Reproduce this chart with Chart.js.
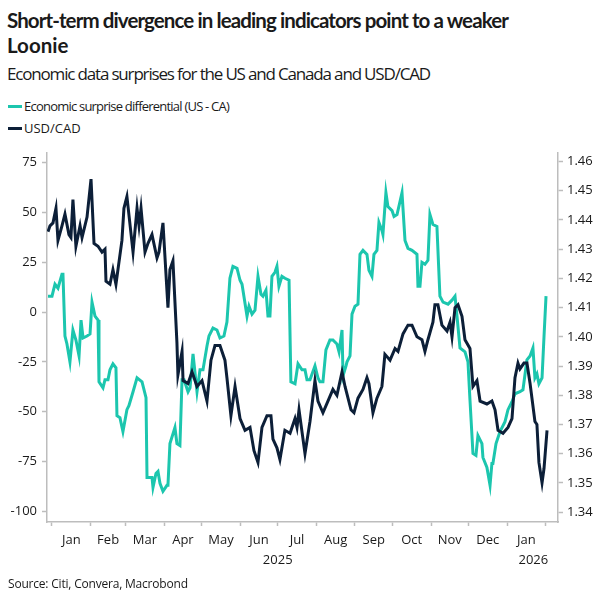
<!DOCTYPE html>
<html>
<head>
<meta charset="utf-8">
<script src="https://cdn.jsdelivr.net/npm/chart.js@4.4.1/dist/chart.umd.min.js"></script>
<style>
  body { margin: 0; background: #fff; font-family: "Open Sans", sans-serif; color: #1a1a1a; }
  #wrap { position: relative; width: 605px; height: 605px; overflow: hidden; }
  #title { position: absolute; left: 7px; top: 8px; font-family: Lato, "Open Sans", sans-serif; font-size: 20.5px; font-weight: 700; line-height: 25px; white-space: nowrap; }
  #subtitle { position: absolute; left: 7px; top: 63px; font-size: 17px; line-height: 22px; white-space: nowrap; }
  .leg { position: absolute; left: 8px; font-size: 13px; line-height: 16px; white-space: nowrap; }
  .leg i { display: inline-block; width: 14px; height: 3px; margin-right: 2px; vertical-align: middle; position: relative; top: -1px; }
  #source { position: absolute; left: 8px; top: 575px; font-size: 12px; letter-spacing: -0.2px; }
  #box { position: absolute; left: 0; top: 140px; width: 605px; height: 465px; }
</style>
</head>
<body>
<div id="wrap">
  <div id="title"><span id="t1">Short-term divergence in leading indicators point to a weaker</span><br><span id="t2">Loonie</span></div>
  <div id="subtitle"><span id="sub">Economic data surprises for the US and Canada and USD/CAD</span></div>
  <div class="leg" style="top:98px"><i style="background:#1cc6ae"></i><span id="l1">Economic surprise differential (US - CA)</span></div>
  <div class="leg" style="top:120px"><i style="background:#0c1f38"></i><span id="l2">USD/CAD</span></div>
  <div id="box"><canvas id="mycanvas"></canvas></div>
  <div id="source">Source: Citi, Convera, Macrobond</div>
</div>
<script>
// days counted from 1 Jan 2025
var usdcadDays = [-3.2, -1.6, 0.8, 3.2, 4.8, 8.0, 10.4, 13.6, 15.2, 16.8, 19.2, 22.5, 24.1, 28.1, 31.3, 33.7, 36.9, 40.1, 42.5, 43.3,
  46.5, 48.9, 51.3, 56.1, 57.7, 60.1, 65.0, 68.2, 69.8, 71.4, 74.6, 77.0, 80.2, 84.2, 85.8, 89.0, 93.0, 94.6, 97.0, 100.2,
  101.0, 104.3, 105.1, 109.1, 112.3, 116.3, 120.3, 124.3, 127.5, 130.7, 134.7, 138.7, 140.3, 143.5, 146.8, 150.8, 154.8, 158.8, 162.0, 165.2,
  168.4, 172.4, 175.6, 177.2, 180.4, 182.8, 186.8, 190.9, 194.9, 196.5, 198.1, 202.9, 206.9, 210.9, 213.3, 217.3, 221.3, 225.3, 228.5, 232.6,
  235.0, 239.8, 242.2, 245.4, 249.4, 252.6, 254.2, 257.4, 260.6, 264.6, 267.0, 271.1, 275.1, 277.5, 281.5, 285.5, 288.7, 292.7, 296.7, 299.1,
  301.5, 305.5, 307.1, 309.5, 312.7, 316.8, 319.2, 320.8, 323.2, 325.6, 328.8, 331.2, 335.2, 337.6, 340.8, 343.3, 348.8, 352.8, 355.3, 357.7,
  361.7, 365.7, 368.9, 371.3, 373.7, 375.3, 378.5, 380.9, 383.4, 387.3, 388.9, 390.5, 393.0, 394.6, 397.0];
var usdcadValues = [1.436, 1.438, 1.439, 1.444, 1.433, 1.438, 1.442, 1.435, 1.434, 1.447, 1.431, 1.438, 1.434, 1.441, 1.454, 1.432, 1.431, 1.429, 1.430, 1.419,
  1.418, 1.423, 1.418, 1.433, 1.444, 1.448, 1.429, 1.444, 1.438, 1.444, 1.429, 1.432, 1.435, 1.427, 1.429, 1.439, 1.410, 1.423, 1.426, 1.398,
  1.387, 1.395, 1.385, 1.384, 1.388, 1.383, 1.385, 1.378, 1.392, 1.397, 1.397, 1.392, 1.386, 1.373, 1.383, 1.372, 1.368, 1.369, 1.361, 1.357,
  1.369, 1.373, 1.373, 1.365, 1.362, 1.358, 1.368, 1.367, 1.372, 1.369, 1.375, 1.360, 1.371, 1.385, 1.378, 1.374, 1.378, 1.382, 1.380, 1.388,
  1.383, 1.375, 1.374, 1.379, 1.382, 1.386, 1.384, 1.374, 1.379, 1.383, 1.394, 1.392, 1.396, 1.395, 1.401, 1.404, 1.404, 1.400, 1.399, 1.395,
  1.399, 1.405, 1.411, 1.411, 1.404, 1.402, 1.405, 1.400, 1.410, 1.411, 1.407, 1.399, 1.396, 1.383, 1.385, 1.378, 1.377, 1.378, 1.375, 1.368,
  1.367, 1.369, 1.372, 1.386, 1.391, 1.389, 1.391, 1.391, 1.384, 1.371, 1.370, 1.357, 1.350, 1.355, 1.368];

var surpriseDays = [-3.2, 0.0, 2.4, 4.8, 8.0, 8.8, 10.4, 12.0, 14.4, 16.8, 19.2, 21.7, 23.3, 24.9, 28.1, 30.5, 32.1, 34.5, 36.9, 37.7,
  40.9, 42.5, 44.9, 46.5, 48.9, 51.3, 52.1, 54.5, 56.9, 60.1, 61.7, 65.0, 68.2, 72.2, 75.4, 76.2, 80.2, 81.0, 83.4, 85.0,
  86.6, 89.0, 92.2, 93.0, 94.6, 98.6, 100.2, 102.6, 104.3, 105.9, 109.1, 110.7, 113.1, 116.3, 118.7, 121.1, 124.3, 125.9, 129.1, 132.3,
  134.7, 137.9, 140.3, 142.7, 145.1, 148.4, 150.8, 152.4, 156.4, 158.0, 160.4, 162.8, 165.2, 167.6, 169.2, 171.6, 173.2, 174.8, 176.4, 178.8,
  180.4, 182.0, 184.4, 186.8, 190.1, 191.6, 194.9, 197.3, 200.5, 202.9, 204.5, 206.9, 210.9, 213.3, 214.9, 217.3, 219.7, 222.9, 225.3, 228.5,
  230.2, 232.6, 233.4, 235.8, 236.6, 239.0, 240.6, 243.0, 245.4, 247.0, 249.4, 252.6, 254.2, 256.6, 258.2, 260.6, 262.2, 264.6, 265.4, 267.8,
  269.4, 272.7, 274.3, 276.7, 280.7, 283.1, 285.5, 288.7, 292.7, 293.5, 295.1, 296.7, 299.1, 301.5, 303.1, 305.5, 308.7, 311.1, 313.6, 317.6,
  320.8, 323.2, 324.8, 327.2, 331.2, 333.6, 335.2, 337.6, 340.0, 341.6, 344.8, 345.6, 348.8, 351.3, 352.8, 353.6, 356.1, 359.3, 363.3, 365.7,
  368.9, 371.3, 375.3, 377.7, 380.9, 383.4, 385.7, 387.3, 388.9, 390.5, 393.0, 394.6, 396.2];
var surpriseValues = [8, 8, 14, 12, 19, 19, -12, -16, -25, -9, -14, -22, -4, -13, -12, -11, 5, -2, -4, -35,
  -38, -34, -34, -29, -26, -28, -52, -53, -60, -49, -47, -40, -33, -35, -43, -83, -83, -88, -81, -80,
  -86, -90, -87, -87, -66, -58, -66, -67, -34, -34, -40, -38, -21, -40, -29, -29, -17, -12, -8, -9,
  -13, -12, -5, 17, 23, 22, 16, 14, -2, 3, -1, 1, 18, 9, 8, 11, -2, -2, 18, 20,
  23, 13, 18, 17, 16, -35, -36, -26, -29, -29, -34, -34, -27, -33, -35, -35, -19, -14, -14, -16,
  -20, -9, -32, -27, -25, -22, -1, 3, 4, 29, 31, 29, 21, 18, 29, 31, 45, 41, 39, 60,
  53, 51, 48, 49, 60, 36, 32, 31, 29, 13, 13, 25, 24, 26, 49, 44, 43, 8, 5, 4,
  6, 8, -2, -18, -20, -25, -44, -71, -72, -62, -66, -73, -78, -87, -76, -76, -66, -60, -55, -49,
  -45, -41, -40, -39, -24, -22, -18, -33, -31, -36, -33, -12, 8];

var monthTicks = [0, 31, 59, 90, 120, 151, 181, 212, 243, 273, 304, 334, 365, 396];
var monthLabels = ['Jan', 'Feb', 'Mar', 'Apr', 'May', 'Jun', 'Jul', 'Aug', 'Sep', 'Oct', 'Nov', 'Dec', 'Jan'];
var yearTicks = [181, 386];
var yearLabels = ['2025', '2026'];
var leftTicks = [-100, -75, -50, -25, 0, 25, 50, 75];
var rightTicks = [1.34, 1.35, 1.36, 1.37, 1.38, 1.39, 1.40, 1.41, 1.42, 1.43, 1.44, 1.45, 1.46];

// squeeze header text to the widths used in the original
function fitWidth(id, target) {
  var el = document.getElementById(id);
  el.style.letterSpacing = '0px';
  var w = el.getBoundingClientRect().width;
  el.style.letterSpacing = ((target - w) / el.textContent.length) + 'px';
}
fitWidth('t1', 501);
fitWidth('sub', 423);
fitWidth('l1', 205);

// x axis: tick marks at month starts, month names mid-month, years on a 2nd line
var xItems = [];
for (var i = 0; i < monthTicks.length; i++) {
  xItems.push({value: monthTicks[i], label: '', mark: true});
  if (i < monthLabels.length) xItems.push({value: (monthTicks[i] + monthTicks[i + 1]) / 2, label: monthLabels[i], mark: false});
}
for (var j = 0; j < yearTicks.length; j++) {
  xItems.push({value: yearTicks[j] + 0.01, label: ['', yearLabels[j]], mark: false});
}
xItems.sort(function(a, b) { return a.value - b.value; });

function pairs(xs, ys) {
  var out = [];
  for (var k in xs) out.push({x: xs[k], y: ys[k]});
  return out;
}

var teal = '#1cc6ae';
var navy = '#0c1f38';
var axisGrey = '#bdbdbd';
var tickFont = {family: 'Open Sans', size: 13};

var chartdata = {
  datasets: [
    {
      label: 'USD/CAD',
      data: pairs(usdcadDays, usdcadValues),
      borderColor: navy,
      backgroundColor: navy,
      borderWidth: 3,
      pointRadius: 0,
      yAxisID: 'y1',
      order: 0
    },
    {
      label: 'Economic surprise differential (US - CA)',
      data: pairs(surpriseDays, surpriseValues),
      borderColor: teal,
      backgroundColor: teal,
      borderWidth: 3,
      pointRadius: 0,
      yAxisID: 'y',
      order: 1
    }
  ]
};

var ctx = document.getElementById('mycanvas');

var lineGraph = new Chart(ctx, {
  type: 'line',
  data: chartdata,
  options: {
    responsive: true,
    maintainAspectRatio: false,
    animation: false,
    layout: { padding: { top: 7, bottom: 35, left: 0, right: 0 } },
    plugins: { legend: { display: false }, tooltip: { enabled: false } },
    scales: {
      x: {
        type: 'linear',
        position: 'bottom',
        min: -4,
        max: 405.8,
        afterBuildTicks: function(s) { s.ticks = xItems.map(function(t) { return {value: t.value}; }); },
        afterFit: function(s) { s.height = 48; },
        ticks: {
          autoSkip: false, maxRotation: 0, padding: 5,
          color: '#1a1a1a', font: {family: 'Open Sans', size: 13, lineHeight: 1.5},
          callback: function(v, i) { return xItems[i].label; }
        },
        grid: {
          drawOnChartArea: false, tickLength: 4, tickWidth: 1.5,
          tickColor: function(c) { return xItems[c.index] && xItems[c.index].mark ? axisGrey : 'rgba(0,0,0,0)'; }
        },
        border: { color: axisGrey, width: 1.5 }
      },
      y: {
        position: 'left',
        min: -105.4,
        max: 80,
        afterBuildTicks: function(s) { s.ticks = leftTicks.map(function(v) { return {value: v}; }); },
        afterFit: function(s) { s.width = 47; },
        ticks: { color: '#1a1a1a', font: tickFont, padding: 5 },
        grid: { drawOnChartArea: false, tickLength: 5, color: axisGrey, tickWidth: 1.5 },
        border: { color: axisGrey, width: 1.5 }
      },
      y1: {
        position: 'right',
        min: 1.3366,
        max: 1.463,
        afterBuildTicks: function(s) { s.ticks = rightTicks.map(function(v) { return {value: v}; }); },
        afterFit: function(s) { s.width = 47; },
        ticks: {
          color: '#1a1a1a', font: tickFont, padding: 4,
          callback: function(v) { return v.toFixed(2); }
        },
        grid: { drawOnChartArea: false, tickLength: 5, color: axisGrey, tickWidth: 1.5 },
        border: { color: axisGrey, width: 1.5 }
      }
    }
  }
});
</script>
</body>
</html>
